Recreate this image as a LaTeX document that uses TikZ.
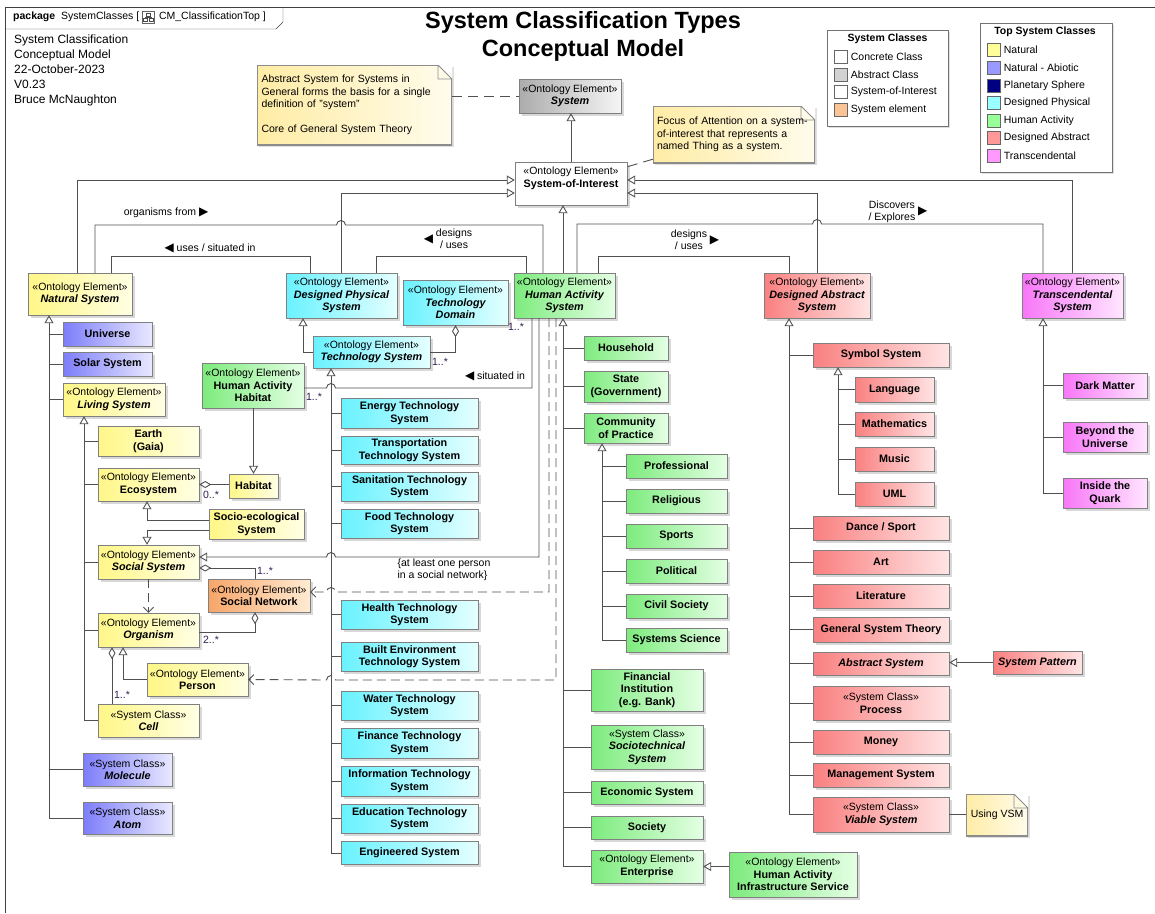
\documentclass[tikz,border=0pt]{standalone}
\usepackage{fontspec}
\setmainfont{Liberation Sans}
\newfontfamily\trifont{DejaVu Sans}
\usepackage{tikz}
\usetikzlibrary{arrows.meta, shadows, positioning}

\definecolor{natL}{RGB}{255,247,135}
\definecolor{natR}{RGB}{255,255,228}
\definecolor{abiL}{RGB}{125,125,250}
\definecolor{abiR}{RGB}{232,232,255}
\definecolor{dphL}{RGB}{105,242,255}
\definecolor{dphR}{RGB}{228,255,255}
\definecolor{hacL}{RGB}{125,235,125}
\definecolor{hacR}{RGB}{228,255,228}
\definecolor{dabL}{RGB}{250,128,128}
\definecolor{dabR}{RGB}{255,228,228}
\definecolor{traL}{RGB}{248,118,248}
\definecolor{traR}{RGB}{255,230,255}
\definecolor{netL}{RGB}{247,165,105}
\definecolor{netR}{RGB}{255,235,210}
\definecolor{sysL}{RGB}{172,172,172}
\definecolor{sysR}{RGB}{245,245,245}
\definecolor{noteL}{RGB}{255,236,165}
\definecolor{noteR}{RGB}{255,252,236}
\definecolor{wire}{RGB}{80,80,80}
\definecolor{mult}{RGB}{50,30,80}
% legend swatches
\definecolor{natS}{RGB}{255,255,153}
\definecolor{abiS}{RGB}{153,153,255}
\definecolor{plaS}{RGB}{0,0,128}
\definecolor{dphS}{RGB}{153,255,255}
\definecolor{hacS}{RGB}{153,255,153}
\definecolor{dabS}{RGB}{255,153,153}
\definecolor{traS}{RGB}{255,153,255}
\definecolor{absG}{RGB}{210,210,210}
\definecolor{elemO}{RGB}{252,196,148}

\newcommand\labfont{\fontsize{10.5}{12.5}\selectfont}
\newcommand\stereo[1]{{\labfont «#1»}}
\newcommand\cname[1]{{\fontsize{10.8}{12.5}\selectfont\bfseries #1}}
\newcommand\cnamei[1]{{\fontsize{10.8}{12.5}\selectfont\bfseries\itshape #1}}

\begin{document}
\begin{tikzpicture}[x=1pt, y=-1pt,
  line/.style={draw=wire, line width=0.9pt},
  gen/.style={line, -{Triangle[open, length=8pt, width=9pt]}},
  agg/.style={line, {Diamond[open, length=12pt, width=7pt]}-},
  dep/.style={line, dash pattern=on 9pt off 5pt, -{Straight Barb[length=5pt, width=10pt]}},
  notelink/.style={line, dash pattern=on 10pt off 6pt},
  wh/.style 2 args={minimum width=#1pt, minimum height=#2pt},
  cls/.style={draw=black!50, align=center, inner sep=1pt, font=\labfont,
    drop shadow={shadow xshift=2.5pt, shadow yshift=-2.5pt, opacity=0.3}},
  natbox/.style={cls, left color=natL, right color=natR},
  abibox/.style={cls, left color=abiL, right color=abiR},
  dphbox/.style={cls, left color=dphL, right color=dphR},
  hacbox/.style={cls, left color=hacL, right color=hacR},
  dabbox/.style={cls, left color=dabL, right color=dabR},
  trabox/.style={cls, left color=traL, right color=traR},
  netbox/.style={cls, left color=netL, right color=netR},
  absbox/.style={cls, left color=sysL, right color=sysR},
  soibox/.style={cls, fill=white},
  note/.style={align=left, inner sep=3pt, font=\labfont, left color=noteL, right color=noteR,
    drop shadow={shadow xshift=2pt, shadow yshift=-2pt, opacity=0.25},
    path picture={
      \fill[white] ([xshift=-14pt]path picture bounding box.north east) -- (path picture bounding box.north east)
        -- ([yshift=-14pt]path picture bounding box.north east) -- cycle;
      \draw[black!45, line width=1.6pt] ([xshift=-14pt]path picture bounding box.north east)
        -- (path picture bounding box.north west) -- (path picture bounding box.south west)
        -- (path picture bounding box.south east) -- ([yshift=-14pt]path picture bounding box.north east);
      \draw[black!45, line width=0.8pt] ([xshift=-14pt]path picture bounding box.north east)
        |- ([yshift=-14pt]path picture bounding box.north east) -- cycle;}},
  legbox/.style={draw=black!55, fill=white, drop shadow={shadow xshift=2pt, shadow yshift=-2pt, opacity=0.25}},
  swatch/.style={draw=black!60, minimum size=13pt, inner sep=0pt},
  legtext/.style={font=\labfont, inner sep=1pt},
  lbl/.style={font=\labfont, inner sep=1pt, align=center},
  mul/.style={font=\labfont, text=mult, inner sep=0pt}]

\fill[white] (0,0) rectangle (1155,913);
\useasboundingbox (0,0) rectangle (1155,913);

% frame and package tab
\draw[black!75] (5,913) -- (5,7) -- (1155,7);
\draw[black!75] (5,29) -- (276,29) -- (283,22) -- (283,7);
\node[anchor=west, inner sep=0pt, font=\labfont] (pkg) at (13,17) {\textbf{package}\ \ SystemClasses [};
\node[draw=black!60, wh={12}{12}, inner sep=0pt, right=3pt of pkg] (pkgicon) {};
\draw[black!70, line width=0.5pt] ([shift={(-2,-4)}]pkgicon.center) rectangle ++(4,3)
  ([shift={(-5,1.5)}]pkgicon.center) rectangle ++(4,3)
  ([shift={(1,1.5)}]pkgicon.center) rectangle ++(4,3)
  ([shift={(0,-1)}]pkgicon.center) -- ([shift={(0,0.5)}]pkgicon.center)
  ([shift={(-3,1.5)}]pkgicon.center) -- ([shift={(-3,0.5)}]pkgicon.center)
  -- ([shift={(3,0.5)}]pkgicon.center) -- ([shift={(3,1.5)}]pkgicon.center);
\node[anchor=west, inner sep=0pt, font=\labfont, right=4pt of pkgicon] (pkgname) {CM\_ClassificationTop ]};

\node[anchor=north west, align=left, inner sep=0pt, font=\fontsize{12}{14.8}\selectfont] (info) at (14,35)
  {System Classification\\Conceptual Model\\22-October-2023\\V0.23\\Bruce McNaughton};
\node[align=center, font=\fontsize{23.5}{28}\selectfont\bfseries] (title) at (583,36)
  {System Classification Types\\Conceptual Model};

% legends
\node[legbox, wh={121}{96}] (legsys) at (887.5,78) {};
\node[lbl, font=\labfont\bfseries] (legsyst) at (887.5,39) {System Classes};
\foreach \c/\t [count=\i] in {white/Concrete Class, absG/Abstract Class, white/System-of-Interest, elemO/System element} {
  \node[swatch, fill=\c] (ssw\i) at (841,{39.5+17.5*\i}) {};
  \node[legtext, right=2pt of ssw\i] (slb\i) {\t};
}
\node[legbox, wh={132}{149}] (legtop) at (1046,97.5) {};
\node[lbl, font=\labfont\bfseries] (legtopt) at (1045,32) {Top System Classes};
\foreach \c/\t [count=\i] in {natS/Natural, abiS/Natural - Abiotic, plaS/Planetary Sphere, dphS/Designed Physical, hacS/Human Activity, dabS/Designed Abstract, traS/Transcendental} {
  \node[swatch, fill=\c] (tsw\i) at (994,{32.5+17.6*\i}) {};
  \node[legtext, right=2pt of tsw\i] (tlb\i) {\t};
}

% notes
\node[note, wh={195}{80}, text width=186pt] (absnote) at (354.5,105)
  {Abstract System for Systems in\\General forms the basis for a single\\definition of "system"\\[12.5pt]Core of General System Theory};
\node[note, wh={162}{57}, text width=154pt] (focusnote) at (734,134.5)
  {Focus of Attention on a system-\\of-interest that represents a\\named Thing as a system.};
\node[note, wh={62}{42}] (vsmnote) at (997,815) {Using VSM};

% top classes
\node[absbox, wh={102}{34}] (system) at (570,96) {\stereo{Ontology Element}\\\cnamei{System}};
\node[soibox, wh={112}{43}] (soi) at (571,183.5) {\stereo{Ontology Element}\\\cname{System-of-Interest}\\\mbox{}};
\node[natbox, wh={104}{42}] (natural) at (80,294) {\stereo{Ontology Element}\\\cnamei{Natural System}};
\node[dphbox, wh={111}{45}] (dphys) at (341.5,295.5) {\stereo{Ontology Element}\\\cnamei{Designed Physical}\\\cnamei{System}};
\node[dphbox, wh={105}{45}] (techdom) at (455.5,302.5) {\stereo{Ontology Element}\\\cnamei{Technology}\\\cnamei{Domain}};
\node[hacbox, wh={101}{45}] (has) at (564.5,295.5) {\stereo{Ontology Element}\\\cnamei{Human Activity}\\\cnamei{System}};
\node[dphbox, wh={117}{32}] (techsys) at (371.5,352) {\stereo{Ontology Element}\\\cnamei{Technology System}};
\node[dabbox, wh={106}{45}] (dabs) at (817,295.5) {\stereo{Ontology Element}\\\cnamei{Designed Abstract}\\\cnamei{System}};
\node[trabox, wh={101}{45}] (trans) at (1072.5,295.5) {\stereo{Ontology Element}\\\cnamei{Transcendental}\\\cnamei{System}};

% natural branch
\node[abibox, wh={89}{24}] (universe) at (107.5,334) {\cname{Universe}};
\node[abibox, wh={89}{24}] (solar) at (107.5,364) {\cname{Solar System}};
\node[natbox, wh={102}{33}] (living) at (114,399.5) {\stereo{Ontology Element}\\\cnamei{Living System}};
\node[hacbox, wh={102}{45}] (hah) at (253,385.5) {\stereo{Ontology Element}\\\cname{Human Activity}\\\cname{Habitat}};
\node[natbox, wh={101}{30}] (earth) at (148.5,441) {\cname{Earth}\\\cname{(Gaia)}};
\node[natbox, wh={101}{33}] (ecosys) at (148.5,484.5) {\stereo{Ontology Element}\\\cname{Ecosystem}};
\node[natbox, wh={49}{24}] (habitat) at (253.5,486) {\cname{Habitat}};
\node[natbox, wh={95}{30}] (socioeco) at (256.5,524) {\cname{Socio-ecological}\\\cname{System}};
\node[natbox, wh={101}{34}] (socsys) at (148.5,562) {\stereo{Ontology Element}\\\cnamei{Social System}};
\node[netbox, wh={102}{33}] (socnet) at (259,595.5) {\stereo{Ontology Element}\\\cname{Social Network}};
\node[natbox, wh={101}{34}] (organism) at (148.5,630) {\stereo{Ontology Element}\\\cnamei{Organism}};
\node[natbox, wh={101}{33}] (person) at (197.5,679.5) {\stereo{Ontology Element}\\\cname{Person}};
\node[natbox, wh={101}{33}] (cell) at (148.5,720.5) {\stereo{System Class}\\\cnamei{Cell}};
\node[abibox, wh={89}{33}] (molecule) at (127.5,769.5) {\stereo{System Class}\\\cnamei{Molecule}};
\node[abibox, wh={89}{32}] (atom) at (127.5,818) {\stereo{System Class}\\\cnamei{Atom}};

% technology branch
\node[dphbox, wh={137}{30}] (energy) at (409.5,413) {\cname{Energy Technology}\\\cname{System}};
\node[dphbox, wh={137}{28}] (transport) at (409.5,450) {\cname{Transportation}\\\cname{Technology System}};
\node[dphbox, wh={137}{29}] (sanitation) at (409.5,486.5) {\cname{Sanitation Technology}\\\cname{System}};
\node[dphbox, wh={137}{29}] (food) at (409.5,523.5) {\cname{Food Technology}\\\cname{System}};
\node[dphbox, wh={137}{29}] (health) at (409.5,614.5) {\cname{Health Technology}\\\cname{System}};
\node[dphbox, wh={137}{29}] (builtenv) at (409.5,656.5) {\cname{Built Environment}\\\cname{Technology System}};
\node[dphbox, wh={137}{29}] (water) at (409.5,705.5) {\cname{Water Technology}\\\cname{System}};
\node[dphbox, wh={137}{30}] (finance) at (409.5,743) {\cname{Finance Technology}\\\cname{System}};
\node[dphbox, wh={137}{30}] (info) at (409.5,781) {\cname{Information Technology}\\\cname{System}};
\node[dphbox, wh={137}{29}] (education) at (409.5,818.5) {\cname{Education Technology}\\\cname{System}};
\node[dphbox, wh={137}{23}] (engineered) at (409.5,853) {\cname{Engineered System}};

% human activity branch
\node[hacbox, wh={84}{24}] (household) at (626,348) {\cname{Household}};
\node[hacbox, wh={84}{31}] (state) at (626,386.5) {\cname{State}\\\cname{(Government)}};
\node[hacbox, wh={84}{30}] (cop) at (626,428) {\cname{Community}\\\cname{of Practice}};
\node[hacbox, wh={101}{24}] (professional) at (676.5,466) {\cname{Professional}};
\node[hacbox, wh={101}{24}] (religious) at (676.5,501) {\cname{Religious}};
\node[hacbox, wh={101}{24}] (sports) at (676.5,536) {\cname{Sports}};
\node[hacbox, wh={101}{24}] (political) at (676.5,571) {\cname{Political}};
\node[hacbox, wh={101}{24}] (civil) at (676.5,606) {\cname{Civil Society}};
\node[hacbox, wh={101}{24}] (syssci) at (676.5,640) {\cname{Systems Science}};
\node[hacbox, wh={112}{42}] (fininst) at (647,690) {\cname{Financial}\\\cname{Institution}\\\cname{(e.g. Bank)}};
\node[hacbox, wh={112}{44}] (sociotech) at (647,747) {\stereo{System Class}\\\cnamei{Sociotechnical}\\\cnamei{System}};
\node[hacbox, wh={112}{23}] (econ) at (647,792.5) {\cname{Economic System}};
\node[hacbox, wh={112}{23}] (society) at (647,827.5) {\cname{Society}};
\node[hacbox, wh={112}{33}] (enterprise) at (647,866.5) {\stereo{Ontology Element}\\\cname{Enterprise}};
\node[hacbox, wh={128}{45}] (hais) at (793,874.5) {\stereo{Ontology Element}\\\cname{Human Activity}\\\cname{Infrastructure Service}};

% designed abstract branch
\node[dabbox, wh={136}{24}] (symbol) at (881,355) {\cname{Symbol System}};
\node[dabbox, wh={79}{25}] (language) at (894.5,389.5) {\cname{Language}};
\node[dabbox, wh={79}{24}] (maths) at (894.5,424) {\cname{Mathematics}};
\node[dabbox, wh={79}{24}] (music) at (894.5,459) {\cname{Music}};
\node[dabbox, wh={79}{24}] (uml) at (894.5,494) {\cname{UML}};
\node[dabbox, wh={136}{24}] (dance) at (881,528) {\cname{Dance / Sport}};
\node[dabbox, wh={136}{24}] (art) at (881,562) {\cname{Art}};
\node[dabbox, wh={136}{24}] (literature) at (881,596) {\cname{Literature}};
\node[dabbox, wh={136}{25}] (gst) at (881,629.5) {\cname{General System Theory}};
\node[dabbox, wh={136}{23}] (abssys) at (881,663.5) {\cnamei{Abstract System}};
\node[dabbox, wh={136}{34}] (process) at (881,703) {\stereo{System Class}\\\cname{Process}};
\node[dabbox, wh={136}{24}] (money) at (881,742) {\cname{Money}};
\node[dabbox, wh={136}{24}] (mgmt) at (881,775) {\cname{Management System}};
\node[dabbox, wh={136}{35}] (viable) at (881,814.5) {\stereo{System Class}\\\cnamei{Viable System}};
\node[dabbox, wh={89}{23}] (syspat) at (1037.5,662.5) {\cnamei{System Pattern}};

% transcendental branch
\node[trabox, wh={84}{25}] (darkmatter) at (1105,385.5) {\cname{Dark Matter}};
\node[trabox, wh={84}{30}] (beyond) at (1105,437) {\cname{Beyond the}\\\cname{Universe}};
\node[trabox, wh={84}{30}] (quark) at (1105,493) {\cname{Inside the}\\\cname{Quark}};

% note links
\draw[notelink] (absnote.east |- system.west) -- (system.west);
\draw[notelink] ([yshift=4pt]focusnote.south west) -- ([yshift=-5pt]soi.north east);
\draw[line] (viable.east) -- (vsmnote.west |- viable.east);

% generalisations to System and System-of-Interest
\draw[gen] (soi.north) -- (soi.north |- system.south);
\draw[gen] ([xshift=-3pt]natural.north) |- ([yshift=3.5pt]soi.west);
\draw[gen] (dphys.north) |- ([yshift=-9.5pt]soi.west);
\draw[gen] (trans.north) |- ([yshift=3.5pt]soi.east);
\draw[gen] (dabs.north) |- ([yshift=-9.5pt]soi.east);
\draw[gen] ([xshift=-1.5pt]has.north) -- ([xshift=-1.5pt]has.north |- soi.south);

% associations between top classes
\draw[line] ([xshift=15pt]natural.north) |- (336.5,225) arc[start angle=180, end angle=0, radius=4.5pt]
  -| ([xshift=-21.5pt]has.north);
\draw[line] ([xshift=31pt]natural.north) -- ++(0,-16) -| ([xshift=-31.5pt]dphys.north);
\draw[line] ([xshift=34.5pt]dphys.north) -- ++(0,-16) -| ([xshift=-38.5pt]has.north);
\draw[line] ([xshift=33.5pt]has.north) -- ++(0,-16) -| ([xshift=-28pt]dabs.north);
\draw[line] ([xshift=12.5pt]has.north) |- (812.5,224) arc[start angle=180, end angle=0, radius=4.5pt]
  -| ([xshift=-29.5pt]trans.north);
\node[lbl] (lblorg) at (166,213) {organisms from {\trifont\fontsize{12}{12}\selectfont ▶}};
\node[lbl] (lbluse) at (210,248) {{\trifont\fontsize{12}{12}\selectfont ◀} uses / situated in};
\node[lbl] (lbldes) at (448,240) {{\trifont\fontsize{12}{12}\selectfont ◀}\ \begin{tabular}{@{}c@{}}designs\\/ uses\end{tabular}};
\node[lbl] (lbldes2) at (695,241) {\begin{tabular}{@{}c@{}}designs\\/ uses\end{tabular}\ {\trifont\fontsize{12}{12}\selectfont ▶}};
\node[lbl] (lbldisc) at (898,212) {\begin{tabular}{@{}c@{}}Discovers\\/ Explores\end{tabular}\ {\trifont\fontsize{12}{12}\selectfont ▶}};

% technology system links
\draw[gen] (techsys.west) -| ([xshift=-38.5pt]dphys.south);
\draw[agg] (techdom.south) |- (techsys.east);
\node[mul] (m1) at (440,362) {1..*};
\node[mul] (m2) at (516,327) {1..*};

% human activity habitat
\draw[line] ([yshift=-2.5pt]hah.east) -- (326.5,388) arc[start angle=180, end angle=0, radius=4.5pt]
  -| ([xshift=-32.5pt]has.south);
\node[mul] (m3) at (314,397) {1..*};
\node[lbl] (lblsit) at (495,376) {{\trifont\fontsize{12}{12}\selectfont ◀} situated in};
\draw[gen] (hah.south -| habitat.north) -- (habitat.north);

% links into the living system
\draw[gen] ([xshift=-25.5pt]has.south) |- (335.5,557) arc[start angle=0, end angle=180, radius=4.5pt]
  -- ([yshift=5pt]socsys.east);
\draw[dep] ([xshift=-15.5pt]has.south) |- (335.5,592) arc[start angle=0, end angle=180, radius=4.5pt]
  -- ([yshift=3.5pt]socnet.east);
\draw[dep] ([xshift=-8.5pt]has.south) |- (335.5,680) arc[start angle=0, end angle=180, radius=4.5pt]
  -- (person.east);
\node[lbl, align=left] (constr) at (444,570) {\{at least one person\\in a social network\}};

\draw[agg] (ecosys.east) -- (habitat.west |- ecosys.east);
\node[mul] (m4) at (211,495) {0..*};
\draw[gen] ([yshift=4pt]socioeco.west) -| ([xshift=-1.5pt]ecosys.south);
\draw[gen] ([yshift=-6pt]socioeco.west) -| ([xshift=-1.5pt]socsys.north);
\draw[agg] ([yshift=-6pt]socsys.east) -| ([xshift=-4pt]socnet.north);
\node[mul] (m5) at (265,571) {1..*};
\draw[agg] ([xshift=-4pt]socnet.south) |- ([yshift=-2pt]organism.east);
\node[mul] (m6) at (211,640) {2..*};
\draw[dep] (socsys.south) -- (organism.north);
\draw[gen] (person.west) -| ([xshift=-25.5pt]organism.south);
\draw[agg] ([xshift=-36.5pt]organism.south) -- ([xshift=-36.5pt]cell.north);
\node[mul] (m7) at (122,695) {1..*};

% class trees
\coordinate (natsp) at (49,0);
\coordinate (livsp) at (84,0);
\coordinate (tecsp) at (331,0);
\coordinate (hassp) at (563,0);
\coordinate (copsp) at (602,0);
\coordinate (dabsp) at (789,0);
\coordinate (symsp) at (838,0);
\coordinate (trasp) at (1043,0);

\draw[gen] (atom.west -| natsp) -- (natural.south -| natsp);
\foreach \k in {universe,solar,living,molecule,atom} \draw[line] (\k.west) -- (\k.west -| natsp);
\draw[gen] (cell.west -| livsp) -- (living.south -| livsp);
\foreach \k in {earth,ecosys,socsys,organism,cell} \draw[line] (\k.west) -- (\k.west -| livsp);
\draw[gen] (engineered.west -| tecsp) -- (techsys.south -| tecsp);
\foreach \k in {energy,transport,sanitation,food,health,builtenv,water,finance,info,education,engineered}
  \draw[line] (\k.west) -- (\k.west -| tecsp);
\draw[gen] (enterprise.west -| hassp) -- (has.south -| hassp);
\foreach \k in {household,state,cop,fininst,sociotech,econ,society,enterprise} \draw[line] (\k.west) -- (\k.west -| hassp);
\draw[gen] (syssci.west -| copsp) -- (cop.south -| copsp);
\foreach \k in {professional,religious,sports,political,civil,syssci} \draw[line] (\k.west) -- (\k.west -| copsp);
\draw[gen] (hais.west |- enterprise.east) -- (enterprise.east);
\draw[gen] (viable.west -| dabsp) -- (dabs.south -| dabsp);
\foreach \k in {symbol,dance,art,literature,gst,abssys,process,money,mgmt,viable} \draw[line] (\k.west) -- (\k.west -| dabsp);
\draw[gen] (uml.west -| symsp) -- (symbol.south -| symsp);
\foreach \k in {language,maths,music,uml} \draw[line] (\k.west) -- (\k.west -| symsp);
\draw[gen] (syspat.west) -- (syspat.west -| abssys.east);
\draw[gen] (quark.west -| trasp) -- (trans.south -| trasp);
\foreach \k in {darkmatter,beyond,quark} \draw[line] (\k.west) -- (\k.west -| trasp);

\end{tikzpicture}
\end{document}
